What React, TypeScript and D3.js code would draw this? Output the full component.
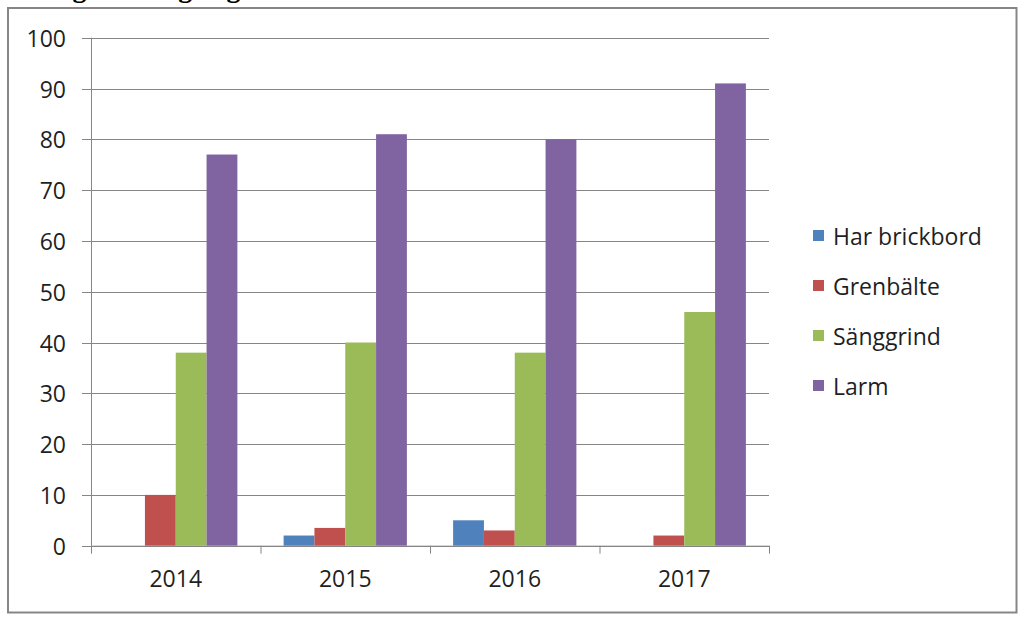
import React from "react";
import * as d3 from "d3";

const years = ["2014", "2015", "2016", "2017"];
const seriesNames = ["Har brickbord", "Grenbälte", "Sänggrind", "Larm"];
const harBrickbord = [0, 2, 5, 0];
const grenbalte = [10, 3.5, 3, 2];
const sanggrind = [38, 40, 38, 46];
const larm = [77, 81, 80, 91];
const seriesValues = [harBrickbord, grenbalte, sanggrind, larm];
const colors = ["#4F81BD", "#C0504D", "#9BBB59", "#8064A2"];
const yTicks = [0, 10, 20, 30, 40, 50, 60, 70, 80, 90, 100];
const title = "Figur 4. Begränsningsåtgärder";

const W = 1023;
const H = 620;
const plot = { left: 91, right: 769, top: 37.7, bottom: 545.7 };
const FONT = "'Open Sans', 'Liberation Sans', sans-serif";
const TEXT = "#1f1f1f";
const GRID = "#868686";

export default function App() {
  const x = d3.scaleBand<string>().domain(years).range([plot.left, plot.right]).paddingInner(0).paddingOuter(0);
  const xi = d3
    .scaleBand<string>()
    .domain(seriesNames)
    .range([0, x.bandwidth()])
    .paddingInner(0)
    .paddingOuter(0.75);
  const y = d3.scaleLinear().domain([0, 100]).range([plot.bottom, plot.top]);

  const boundaries = [...years.map((c) => x(c) as number), plot.right];

  return (
    <svg
      width={W}
      height={H}
      style={{ position: "absolute", left: 0, top: 0, display: "block", background: "#fff" }}
    >
      <rect x={0} y={0} width={W} height={H} fill="#fff" />
      <text
        x={-60}
        y={-3}
        fontFamily="'Liberation Serif', 'DejaVu Serif', serif"
        fontWeight="bold"
        fontSize={28}
        fill="#000"
      >
        {title}
      </text>
      <rect x={8} y={8} width={1008.5} height={604.5} fill="none" stroke={GRID} strokeWidth={2} />

      {/* gridlines */}
      {yTicks.map((t) => (
        <line
          key={"g" + t}
          x1={plot.left - 9}
          x2={plot.right}
          y1={Math.round(y(t)) + 0.5}
          y2={Math.round(y(t)) + 0.5}
          stroke={GRID}
          strokeWidth={1}
        />
      ))}
      {/* y axis */}
      <line x1={plot.left + 0.5} x2={plot.left + 0.5} y1={plot.top} y2={plot.bottom} stroke={GRID} strokeWidth={1} />
      {yTicks.map((t) => (
        <text
          key={"yl" + t}
          x={66}
          y={y(t)}
          textAnchor="end"
          dominantBaseline="central"
          fontFamily={FONT}
          fontSize={23}
          fill={TEXT}
        >
          {t}
        </text>
      ))}

      {/* bars */}
      {seriesValues.map((vals, si) =>
        years.map((yr, ci) => {
          const v = vals[ci];
          if (!v) return null;
          const bx = (x(yr) as number) + (xi(seriesNames[si]) as number);
          return (
            <rect
              key={si + "-" + ci}
              x={bx}
              y={y(v)}
              width={xi.bandwidth()}
              height={y(0) - y(v)}
              fill={colors[si]}
            />
          );
        })
      )}

      {/* x axis */}
      <line x1={plot.left} x2={plot.right} y1={plot.bottom + 0.5} y2={plot.bottom + 0.5} stroke={GRID} strokeWidth={1} />
      {boundaries.map((bx, i) => (
        <line
          key={"xt" + i}
          x1={bx + 0.5}
          x2={bx + 0.5}
          y1={plot.bottom}
          y2={plot.bottom + 8}
          stroke={GRID}
          strokeWidth={1}
        />
      ))}
      {years.map((yr) => (
        <text
          key={"xl" + yr}
          x={(x(yr) as number) + x.bandwidth() / 2}
          y={587}
          textAnchor="middle"
          fontFamily={FONT}
          fontSize={23}
          fill={TEXT}
        >
          {yr}
        </text>
      ))}

      {/* legend */}
      {seriesNames.map((name, i) => {
        const cy = 235.5 + i * 50;
        return (
          <g key={"lg" + name}>
            <rect x={813} y={cy - 5.5} width={11} height={11} fill={colors[i]} />
            <text
              x={833}
              y={cy}
              dominantBaseline="central"
              fontFamily={FONT}
              fontSize={23}
              fill={TEXT}
            >
              {name}
            </text>
          </g>
        );
      })}
    </svg>
  );
}
